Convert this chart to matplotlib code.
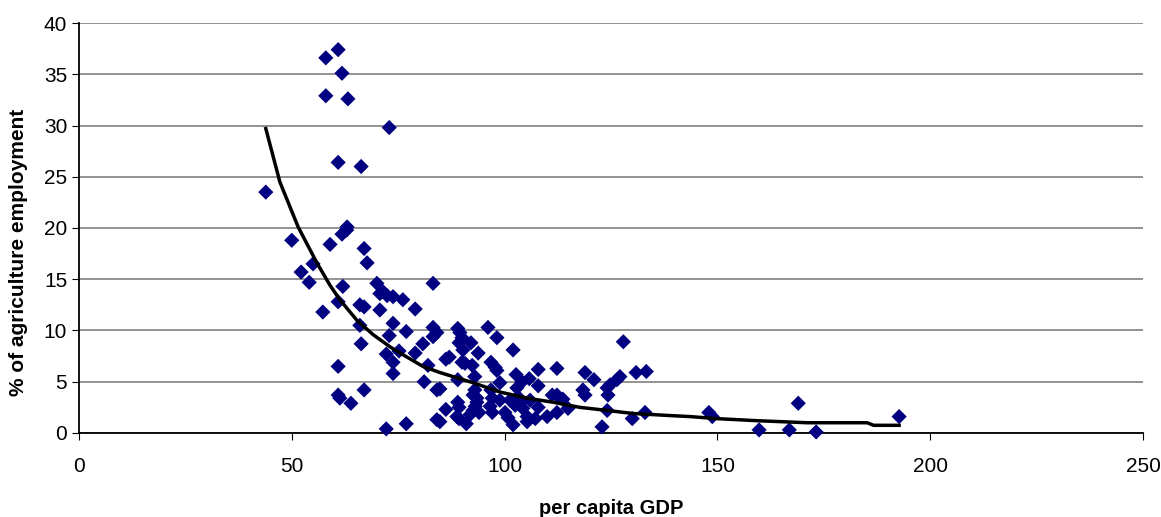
import numpy as np
import matplotlib.pyplot as plt

# scatter points: per capita GDP vs % agriculture employment
gdp = [43.9, 50.0, 52.2, 54.1, 55.0, 57.3, 58.0, 58.0, 59.0, 60.9,
       61.8, 63.2, 60.9, 66.3, 61.8, 62.9, 63.0, 67.0, 67.7, 62.0,
       70.0, 70.7, 71.4, 72.4, 73.8, 76.1, 83.2, 60.9, 66.0, 67.0,
       70.7, 79.0, 73.8, 66.0, 76.9, 72.9, 83.2, 83.2, 84.1, 66.3,
       80.8, 72.2, 75.2, 73.8, 79.0, 82.0, 60.9, 73.8, 81.1, 84.1,
       67.0, 60.9, 61.3, 63.9, 84.1, 76.9, 72.2, 72.9,
       84.8, 86.2, 87.0, 89.0, 89.5, 90.0, 89.3, 90.2, 90.0, 90.7,
       92.4, 92.1, 93.8, 96.1, 98.2, 93.0, 89.0, 96.8, 97.8, 98.2,
       102.0, 98.9, 102.7, 104.1, 105.8, 107.9, 107.9, 112.3, 118.9, 121.0,
       127.9, 130.9, 133.3, 127.1, 126.4, 124.8, 124.1, 124.3, 118.4, 118.9,
       124.1, 122.9, 130.0, 133.0, 112.3, 111.2, 113.7, 114.9, 112.3, 110.0,
       84.8, 86.2, 89.0, 89.3, 88.8, 89.3, 91.0, 91.9, 92.6, 93.1,
       93.5, 94.0, 92.6, 93.0, 93.5, 96.8, 97.1, 96.6, 97.1, 98.9,
       100.1, 100.8, 102.0, 101.3, 102.5, 103.2, 103.6, 104.3, 102.9, 105.3,
       105.3, 107.2, 106.0, 107.9,
       148.0, 148.8, 159.8, 169.0, 166.9, 173.2, 192.7]
agri = [23.5, 18.8, 15.7, 14.7, 16.5, 11.8, 36.6, 32.9, 18.4, 37.4,
        35.1, 32.6, 26.4, 26.0, 19.4, 19.8, 20.1, 18.0, 16.6, 14.3,
        14.6, 13.6, 13.8, 13.4, 13.3, 13.0, 14.6, 12.8, 12.5, 12.3,
        12.0, 12.1, 10.7, 10.5, 9.9, 9.5, 10.3, 9.4, 9.8, 8.7,
        8.7, 7.7, 8.0, 6.9, 7.8, 6.6, 6.5, 5.8, 5.0, 4.2,
        4.2, 3.7, 3.4, 2.9, 1.3, 0.9, 0.4, 29.8,
        4.3, 7.2, 7.4, 10.2, 9.8, 9.3, 8.8, 8.1, 6.9, 6.8,
        6.6, 8.8, 7.8, 10.3, 9.3, 5.5, 5.2, 6.9, 6.4, 6.1,
        8.1, 4.9, 5.7, 5.0, 5.3, 6.2, 4.6, 6.3, 5.9, 5.2,
        8.9, 5.9, 6.0, 5.5, 5.2, 4.7, 4.4, 3.7, 4.2, 3.7,
        2.2, 0.6, 1.4, 2.0, 3.7, 3.7, 3.3, 2.4, 2.0, 1.6,
        1.1, 2.3, 3.0, 2.5, 1.6, 1.4, 0.9, 1.8, 2.2, 2.6,
        3.0, 2.0, 3.7, 4.2, 3.4, 4.2, 3.4, 2.6, 2.0, 3.2,
        2.0, 1.5, 0.8, 3.2, 2.7, 3.5, 2.9, 2.4, 4.4, 1.6,
        1.1, 1.4, 3.2, 2.5,
        2.0, 1.6, 0.3, 2.9, 0.3, 0.1, 1.6]

# trend line
trend_x = [43.9, 47.2, 51.5, 55.9, 59.0, 61.3, 65.3, 69.1, 73.1, 77.1,
           80.8, 84.8, 92.6, 98.9, 105.3, 111.4, 117.7, 124.1, 130.2, 138.9,
           143.6, 149.9, 159.3, 171.1, 185.2, 186.7, 192.7]
trend_y = [29.7, 24.5, 20.1, 16.6, 14.4, 13.0, 11.0, 9.6, 8.4, 7.4,
           6.5, 5.9, 4.9, 4.0, 3.4, 3.0, 2.5, 2.2, 1.9, 1.7,
           1.6, 1.4, 1.2, 1.0, 1.0, 0.75, 0.75]

plt.rcParams['font.family'] = ['Liberation Sans', 'DejaVu Sans']

fig = plt.figure(figsize=(11.61, 5.17), dpi=100)
ax = fig.add_axes([0.068, 0.1625, 0.9165, 0.793])

ax.scatter(gdp, agri, marker='D', s=60, color='#000080', edgecolors='none', zorder=3, clip_on=False)
ax.plot(trend_x, trend_y, color='black', lw=2.5, zorder=4)

ax.set_xlim(0, 250)
ax.set_ylim(0, 40)
ax.set_xticks(np.arange(0, 251, 50))
ax.set_yticks(np.arange(0, 41, 5))
ax.yaxis.grid(True, color='#808080', lw=1.2)
ax.set_axisbelow(True)
for s in ['top', 'right']:
    ax.spines[s].set_visible(False)
for s in ['left', 'bottom']:
    ax.spines[s].set_linewidth(1.3)
ax.tick_params(axis='both', labelsize=15, length=5, direction='out')
ax.tick_params(axis='x', pad=12)

ax.set_xlabel('per capita GDP', fontsize=14.5, fontweight='bold', labelpad=17)
ax.set_ylabel('% of agriculture employment', fontsize=15, fontweight='bold')
ax.yaxis.set_label_coords(-0.048, 0.44)  # label sits a bit below the axes centre

fig.savefig('out.png', dpi=100)
